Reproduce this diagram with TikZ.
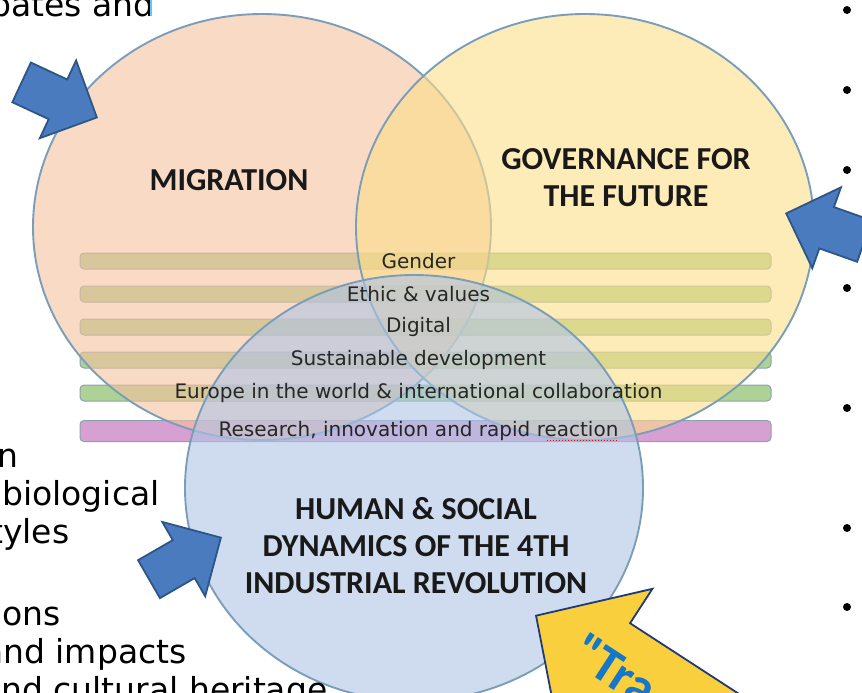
\documentclass[tikz,border=0pt]{standalone}
\usepackage{fontspec}
\setmainfont{Carlito}
\newfontfamily\slidefont{DejaVu Sans}
\usepackage{xcolor}
\usepackage{tikz}
\usetikzlibrary{shapes.geometric}
\usetikzlibrary{shapes.arrows}
\usetikzlibrary{calc}
\definecolor{peach}{RGB}{245,193,158}
\definecolor{sand}{RGB}{252,222,137}
\definecolor{sky}{RGB}{175,197,230}
\definecolor{rimblue}{RGB}{122,158,186}
\definecolor{bargreen}{RGB}{172,210,150}
\definecolor{barpink}{RGB}{215,160,210}
\definecolor{barrim}{RGB}{140,160,175}
\definecolor{arrowblue}{RGB}{74,123,190}
\definecolor{arrowrim}{RGB}{44,86,135}
\definecolor{bigyellow}{RGB}{249,207,62}
\definecolor{bignavy}{RGB}{31,58,122}
\definecolor{transblue}{RGB}{21,119,200}
\definecolor{cursorblue}{RGB}{91,200,245}
\newcommand{\shaft}[1]{\rule[-#1]{0pt}{2\dimexpr#1\relax}}
\tikzset{
	theme/.style={ellipse,draw=rimblue,line width=1.9pt,fill opacity=0.6,
		minimum width=458pt,minimum height=426pt,inner sep=0pt},
	topic/.style={font=\bfseries\fontsize{32}{37}\selectfont,align=center,text=black!90},
	bar/.style={rounded corners=4pt,draw=barrim,line width=1pt,fill=bargreen,
		minimum width=691pt,minimum height=16pt,inner sep=0pt},
	bar label/.style={font=\slidefont\fontsize{20}{20}\selectfont,text=black!85,
		inner sep=0pt,xshift=-7pt},
	push/.style={single arrow,draw=arrowrim,fill=arrowblue,line width=1.8pt,
		minimum height=83pt,single arrow head extend=21pt,
		inner sep=0pt,anchor=tip},
	slide text/.style={font=\slidefont\fontsize{33}{33}\selectfont,anchor=base west,inner sep=0pt},
	bullet/.style={circle,fill=black,inner sep=0pt,minimum size=8pt}
}

\begin{document}
\begin{tikzpicture}[x=1pt,y=-1pt]
	\useasboundingbox (0,0) rectangle (862,693);
	\clip (0,0) rectangle (862,693);
	\node [bar] (b1) at (425.5,261) {};
	\node [bar] (b2) at (425.5,294) {};
	\node [bar] (b3) at (425.5,327) {};
	\node [bar] (b4) at (425.5,360) {};
	\node [bar] (b5) at (425.5,393) {};
	\node [bar,fill=barpink,minimum height=21pt] (b6) at (425.5,431) {};
	\node [theme,fill=peach] (migration) at (262,227) {};
	\node [theme,fill=sand] (governance) at (585,227) {};
	\node [theme,fill=sky] (human) at (414,488) {};
	\node [bar label] (t1) at (b1) {Gender};
	\node [bar label] (t2) at (b2) {Ethic \& values};
	\node [bar label] (t3) at (b3) {Digital};
	\node [bar label] (t4) at (b4) {Sustainable development};
	\node [bar label] (t5) at (b5) {Europe in the world \& international collaboration};
	\node [bar label] (t6) at (b6) {Research, innovation and rapid reaction};
	\draw [red,dotted,line width=1pt] ($(t6.base east)+(-72,4)$) -- ($(t6.base east)+(-2,4)$);
	\node [topic] (migtitle) at (229,180) {MIGRATION};
	\node [topic] (govtitle) at (626,178) {GOVERNANCE FOR\\THE FUTURE};
	\node [topic] (humtitle) at (416,546) {HUMAN \& SOCIAL\\DYNAMICS OF THE 4TH\\INDUSTRIAL REVOLUTION};
	\node [push,rotate=-25] (pushmig) at (98,118) {\shaft{21pt}};
	\node [push,rotate=160.5] (pushgov) at (785,213) {\shaft{21pt}};
	\node [push,rotate=30] (pushhum) at (222,537) {\shaft{21pt}};
	\node [push,fill=bigyellow,draw=bignavy,rotate=147,minimum height=320pt,
		single arrow head extend=41pt,single arrow tip angle=92] (trans) at (535,615) {\shaft{44pt}};
	\node [font=\bfseries\fontsize{52}{52}\selectfont,text=transblue,rotate=-33,anchor=base west,inner sep=0pt]
		(transtext) at (568,660) {\textquotedbl Tra};
	\node [slide text] (s1) at (-10,17) {bates and};
	\draw [cursorblue,line width=1.5pt] (151,0) -- (151,16);
	\node [slide text] (s2) at (-3,467) {n};
	\node [slide text] (s3) at (2,505) {biological};
	\node [slide text] (s4) at (-10,543) {tyles};
	\node [slide text] (s5) at (-7,625) {ions};
	\node [slide text] (s6) at (-17,663) {and impacts};
	\node [slide text] (s7) at (1,701) {nd cultural heritage};
	\node [bullet] (dot1) at (847,10) {};
	\node [bullet] (dot2) at (847,90) {};
	\node [bullet] (dot3) at (847,170) {};
	\node [bullet] (dot4) at (847,288) {};
	\node [bullet] (dot5) at (847,408) {};
	\node [bullet] (dot6) at (847,528) {};
	\node [bullet] (dot7) at (847,607) {};
\end{tikzpicture}
\end{document}
